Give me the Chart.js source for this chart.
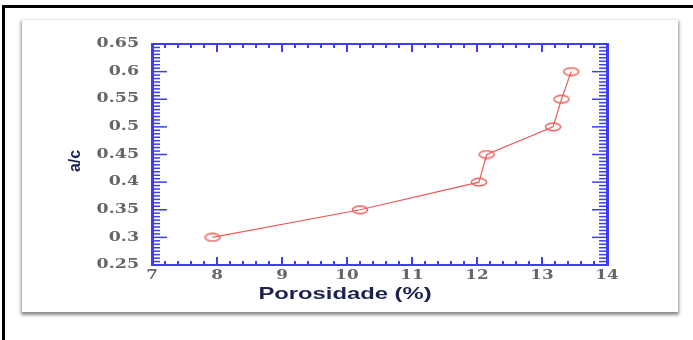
<!DOCTYPE html>
<html>
<head>
<meta charset="utf-8">
<script src="https://cdn.jsdelivr.net/npm/chart.js@4"></script>
<style>
  html, body { margin: 0; padding: 0; background: #fff; }
  body { width: 693px; height: 340px; position: relative; overflow: hidden; }
  .frame { position: absolute; left: 2px; top: 5px; width: 720px; height: 360px;
           border-left: 3px solid #000; border-top: 3px solid #000; }
  .card { position: absolute; left: 22px; top: 20px; width: 656px; height: 292px; background: #fff;
          box-shadow: 0 2px 3px 1px rgba(0,0,0,0.45); }
  canvas { position: absolute; left: 0; top: 0; }
</style>
</head>
<body>
<div class="frame"></div>
<div class="card"></div>
<canvas id="chart" width="693" height="340"></canvas>
<script>
// data
const porosity = [7.93, 10.2, 12.03, 12.15, 13.17, 13.3, 13.45];
const acRatio = [0.3, 0.35, 0.4, 0.45, 0.5, 0.55, 0.6];
const xTicks = [7, 8, 9, 10, 11, 12, 13, 14];
const xTickLabels = ["7", "8", "9", "10", "11", "12", "13", "14"];
const yTicks = [0.25, 0.3, 0.35, 0.4, 0.45, 0.5, 0.55, 0.6, 0.65];
const yTickLabels = ["0.25", "0.3", "0.35", "0.4", "0.45", "0.5", "0.55", "0.6", "0.65"];
const xMinorPerMajor = 5;
const yMinorPerMajor = 8;

const BLUE = "#3d3df2";
const RED = "#ee5a5a";

// elliptical open marker
const marker = document.createElement("canvas");
marker.width = 20; marker.height = 10;
{
  const m = marker.getContext("2d");
  m.strokeStyle = RED;
  m.lineWidth = 1.4;
  m.beginPath();
  m.ellipse(10, 5, 7.6, 3.8, 0, 0, Math.PI * 2);
  m.stroke();
}

function line(ctx, x1, y1, x2, y2) {
  ctx.beginPath(); ctx.moveTo(x1, y1); ctx.lineTo(x2, y2); ctx.stroke();
}

function stretchedText(ctx, text, x, y, sx, align) {
  ctx.save();
  ctx.translate(x, y);
  ctx.scale(sx, 1);
  ctx.textAlign = align;
  ctx.fillText(text, 0, 0);
  ctx.restore();
}

const axisDecor = {
  id: "axisDecor",
  afterDraw(chart) {
    const { ctx, chartArea: a, scales: { x, y } } = chart;
    ctx.save();
    ctx.strokeStyle = BLUE;

    // inward ticks, bottom + top
    ctx.lineWidth = 2;
    const xStep = (xTicks[1] - xTicks[0]) / xMinorPerMajor;
    const nx = (xTicks.length - 1) * xMinorPerMajor;
    for (let i = 0; i <= nx; i++) {
      const px = x.getPixelForValue(xTicks[0] + i * xStep);
      const len = i % xMinorPerMajor === 0 ? 8 : 4;
      line(ctx, px, a.bottom, px, a.bottom - len);
      line(ctx, px, a.top, px, a.top + len);
    }
    // inward ticks, left + right
    ctx.lineWidth = 1.5;
    const yStep = (yTicks[1] - yTicks[0]) / yMinorPerMajor;
    const ny = (yTicks.length - 1) * yMinorPerMajor;
    for (let i = 0; i <= ny; i++) {
      const py = y.getPixelForValue(yTicks[0] + i * yStep);
      const len = i % yMinorPerMajor === 0 ? 15 : 8;
      line(ctx, a.left, py, a.left + len, py);
      line(ctx, a.right, py, a.right - len, py);
    }

    // tick labels
    ctx.fillStyle = "#666";
    ctx.font = "bold 12px 'DejaVu Serif'";
    ctx.textBaseline = "middle";
    yTicks.forEach((v, i) => {
      stretchedText(ctx, yTickLabels[i], a.left - 13, y.getPixelForValue(v), 1.45, "right");
    });
    xTicks.forEach((v, i) => {
      stretchedText(ctx, xTickLabels[i], x.getPixelForValue(v), a.bottom + 11, 1.4, "center");
    });

    // axis titles
    ctx.fillStyle = "#1c2250";
    ctx.font = "bold 17px 'Liberation Sans', Arial, sans-serif";
    ctx.textBaseline = "alphabetic";
    stretchedText(ctx, "Porosidade (%)", 345, 299, 1.4, "center");

    ctx.font = "bold 16px 'Liberation Sans', Arial, sans-serif";
    ctx.textBaseline = "middle";
    ctx.translate(76, 161);
    ctx.rotate(-Math.PI / 2);
    ctx.textAlign = "center";
    ctx.fillText("a/c", 0, 0);
    ctx.restore();
  }
};

const hiddenAxis = (pos, size, min, max, borderWidth) => ({
  type: "linear",
  position: pos,
  min, max,
  grid: { display: false, drawTicks: false },
  border: { display: true, color: BLUE, width: borderWidth },
  ticks: { display: false },
  afterFit: s => {
    if (pos === "left" || pos === "right") s.width = size; else s.height = size;
  }
});

new Chart(document.getElementById("chart"), {
  type: "line",
  data: {
    datasets: [{
      data: porosity.map((p, i) => ({ x: p, y: acRatio[i] })),
      borderColor: RED,
      borderWidth: 1.2,
      pointStyle: marker,
      pointRadius: 5,
      tension: 0,
      fill: false
    }]
  },
  options: {
    responsive: false,
    animation: false,
    devicePixelRatio: 1,
    layout: { padding: 0 },
    plugins: { legend: { display: false }, tooltip: { enabled: false } },
    scales: {
      x: hiddenAxis("bottom", 75, xTicks[0], xTicks[xTicks.length - 1], 2),
      x2: hiddenAxis("top", 44, xTicks[0], xTicks[xTicks.length - 1], 2),
      y: hiddenAxis("left", 152, yTicks[0], yTicks[yTicks.length - 1], 3),
      y2: hiddenAxis("right", 86, yTicks[0], yTicks[yTicks.length - 1], 3)
    }
  },
  plugins: [axisDecor]
});
</script>
</body>
</html>
